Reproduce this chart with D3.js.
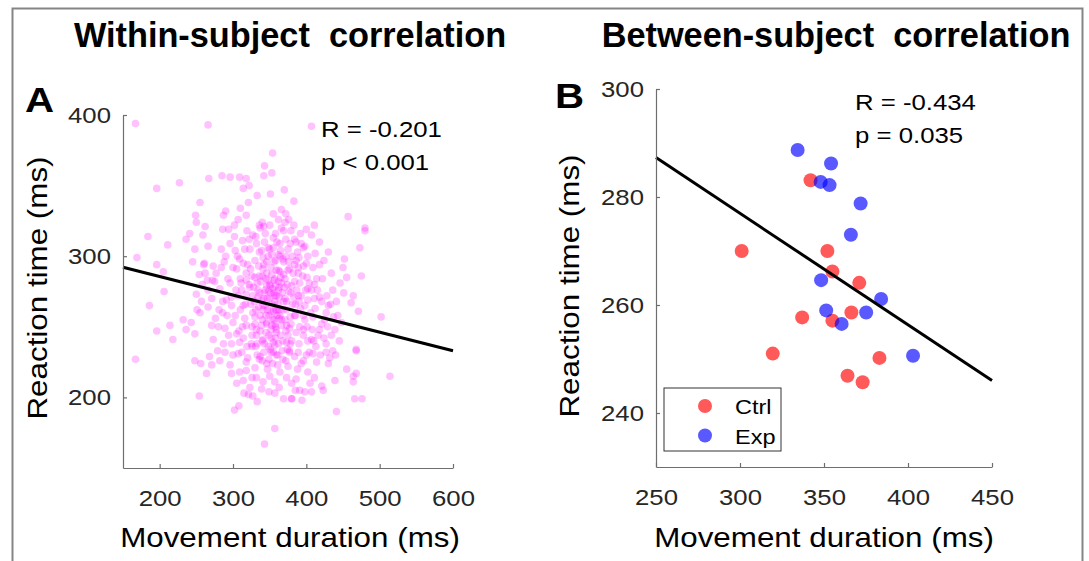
<!DOCTYPE html>
<html>
<head>
<meta charset="utf-8">
<script src="https://cdn.jsdelivr.net/npm/d3@7"></script>
<style>
  html, body { margin: 0; padding: 0; background: #fff; }
  svg { display: block; }
</style>
</head>
<body>
<div id="chart"></div>
<script>
// ---- data ----
// panel A: single trials (movement duration ms, reaction time ms)
const withinPoints = [
  [167,394],[266,393],[354,373],[343,364],[353,359],[342,357],[285,357],[296,356],[309,356],[318,355],
  [322,350],[314,348],[267,355],[227,352],[196,348],[370,347],[351,344],[333,343],[255,338],[321,338],
  [310,334],[290,332],[287,329],[318,329],[249,329],[307,326],[302,322],[340,324],[355,330],[366,333],
  [372,330],[371,324],[250,324],[262,321],[286,319],[294,319],[336,322],[342,321],
  [407,392],[383,339],[457,328],[480,320],[400,319],[411,322],
  [184,314],[211,308],[169,299],[196,294],[205,289],[206,275],[186,265],[196,247],[214,251],[218,241],
  [232,255],[236,248],[243,253],[245,296],[248,305],[236,312],[241,316],[259,315],[266,307],[261,295],
  [273,293],[277,288],[275,282],[250,273],[257,268],[255,260],[266,264],[271,251],[248,245],[282,277],
  [291,269],[286,260],[298,265],[289,249],[300,253],[307,272],[311,281],[305,291],[314,295],[284,305],
  [296,309],[302,314],[323,305],[332,309],[327,315],[318,288],[330,285],[341,291],[323,278],[336,274],
  [350,280],[314,265],[327,260],[341,265],[355,261],[318,251],[332,248],[346,253],[359,248],[373,251],
  [309,239],[325,238],[341,241],[357,237],[373,239],[350,305],[364,309],[368,298],[377,291],[357,272],
  [373,268],[364,258],
  [384,312],[393,309],[398,307],[407,315],[480,318],[473,306],[452,298],[450,292],[455,285],[434,288],
  [418,294],[475,286],[464,272],[461,267],[471,261],[502,257],[414,284],[411,280],[402,277],[389,288],
  [400,295],[386,297],[421,268],[430,265],[427,260],[443,258],[448,253],[439,248],[409,257],[421,252],
  [416,244],[434,244],[398,265],[384,258],[396,248],[407,241],[427,238],[468,234],[380,279],[389,272],
  [402,269],
  [167,227],[254,201],[302,191],[308,194],[357,178],[343,167],[248,226],[256,224],[264,217],[271,223],
  [282,226],[289,232],[296,223],[307,231],[298,217],[309,218],[305,210],[314,212],[323,207],[321,202],
  [327,201],[315,203],[318,225],[330,221],[336,227],[346,224],[352,232],[359,230],[332,214],[341,211],
  [350,215],[357,211],[364,218],[373,214],[349,204],[380,199],[368,227],[377,232],[375,222],
  [377,233],[389,232],[400,230],[409,231],[393,224],[414,225],[430,224],[432,228],[427,232],[436,233],
  [468,233],[455,220],[468,217],[464,215],[464,211],[439,212],[514,215],[411,214],[405,210],[421,208],
  [423,205],[407,204],[398,204],[391,205],[380,210],[380,199],[466,199],[476,199],[441,190],[386,213],
  [338,282],[344,276],[351,279],[357,284],[362,276],[347,270],[353,266],[359,272],[366,281],[341,262],
  [349,258],[356,255],[363,262],[369,268],[334,271],[328,278],[346,288],[352,292],[358,297],[364,289],
  [371,284],[376,275],[381,266],[339,251],[345,246],[352,242],[358,250],[365,244],[371,255],[377,249],
  [330,257],[324,266],[318,273],[335,293],[341,299],[326,286],[320,294],[384,282],[389,292],[395,286],
  [392,263],[398,255],[386,246],[380,240],[374,234],[362,238],[355,232],[348,236],[340,240],[332,244],
  [326,250],[316,256],[310,262],[304,276],[310,284],[300,292],[296,281],[292,258],[286,268],[280,250],
  [348,300],[355,306],[362,301],[369,296],[343,310],[336,303],[330,297],[375,305],[381,300],[388,303],
  [351,261],[357,268],[344,265],[360,258],[354,277],[348,283],[362,290],[367,274],[373,262],[337,258],
  [346,252],[359,246],[366,251],[352,248],[358,262],[343,274],[335,264],[370,278],[378,257],[383,271],
  [305,245],[298,238],[312,232],[320,228],[326,236],[333,230],[340,226],[347,220],[354,224],[361,230],
  [368,240],[375,244],[390,238],[396,244],[401,250],[406,260],[411,270],[404,281],[399,276],[393,272],
  [316,305],[322,312],[309,298],[303,304],[290,300],[284,292],[272,283],[266,276],[262,288],[258,280],
  [344,316],[350,322],[358,316],[366,320],[372,312],[379,318],[386,310],[392,316],[402,300],[409,292],
  [415,276],[422,284],[428,272],[433,266],[425,255],[418,248],[410,240],[404,232],[396,226],[388,220],
  [350,270],[356,274],[346,279],[361,266],[340,286],[353,287],[365,285],[345,258],[357,252],[363,256],
  [349,244],[337,247],[331,262],[327,272],[371,270],[375,290],[368,262],[358,242],[351,234],[342,232],
  [333,238],[364,300],[356,296],[342,294],[336,286],[322,280],[317,266],[313,250],[379,252],[385,258],
  [390,268],[387,276],[382,288],[376,296],[360,310],[348,306],[334,276],[330,252],[354,256],[362,282],
  [312,276],[318,283],[324,291],[329,268],[333,281],[339,269],[345,284],[352,274],[358,279],[363,271],
  [369,287],[374,280],[379,274],[385,266],[391,281],[396,293],[401,285],[407,276],[412,263],[418,271],
  [326,244],[331,236],[337,229],[343,238],[349,227],[355,239],[361,223],[367,233],[372,226],[378,238],
  [384,229],[391,250],[396,258],[402,240],[408,248],[413,236],[419,230],[424,242],[429,250],[437,257],
  [298,271],[293,284],[288,296],[281,262],[276,256],[271,270],[265,283],[260,294],[254,287],[251,262],
  [303,258],[308,247],[314,242],[319,236],[300,230],[294,244],[287,238],[279,233],[273,241],[268,229],
  [340,255],[347,262],[353,251],[360,262],[366,255],[372,247],[342,270],[349,275],[356,283],[363,278],
  [339,304],[346,296],[353,301],[359,290],[365,304],[372,300],[378,309],[384,294],[390,299],[396,306],
  [331,314],[337,320],[355,313],[362,326],[369,318],[376,326],[383,322],[319,318],[313,311],[306,300],
  [412,302],[418,310],[424,297],[430,303],[436,276],[441,268],[446,281],[451,274],[445,240],[440,230],
  [357,203],[363,207],[369,199],[333,197],[339,206],[326,214],[318,219],[385,205],[394,198],[402,218]
];
const withinFit = [[150, 292.2], [600, 233]];

// panel B: subject means
const ctrlPoints = [
  [301,270],[342,283.1],[319.5,251],[337,257.7],[352,270],[355,266.2],
  [371,264.1],[355,257.1],[366.3,258.6],[383,250.2],[364,246.9],[373,245.7]
];
const expPoints = [
  [334.3,288.7],[354.2,286.2],[348,282.8],[353.3,282.2],[371.8,278.8],[366,273],
  [348.3,264.6],[384,261.1],[351.3,259],[375.1,258.6],[360.5,256.5],[403,250.6]
];
const betweenFit = [[250, 287.3], [450, 246]];

const xTicksA = [200, 300, 400, 500, 600];
const yTicksA = [200, 300, 400];
const xTicksB = [250, 300, 350, 400, 450];
const yTicksB = [240, 260, 280, 300];
const legendLabels = ['Ctrl', 'Exp'];

// ---- drawing ----
const W = 1089, H = 561;
const FONT = '"Liberation Sans", Arial, Helvetica, sans-serif';
const SX = 1.12;            // reference glyphs are a little wide
const AXIS = '#6e6e6e';
const TXT = '#262626';

const svg = d3.select('#chart').append('svg')
    .attr('width', W)
    .attr('height', H);

svg.append('rect').attr('width', W).attr('height', H).attr('fill', '#fff');

// outer frame (open at the bottom)
svg.append('path')
    .attr('d', `M12.5,${H} V8.5 H1082.5 V${H}`)
    .attr('fill', 'none')
    .attr('stroke', '#858585')
    .attr('stroke-width', 2);

function addText(str, x, y, o = {}) {
    let tr = `translate(${x},${y})`;
    if (o.rotate) tr += ` rotate(${o.rotate})`;
    tr += ` scale(${o.sx || 1},1)`;
    return svg.append('text')
        .attr('transform', tr)
        .attr('text-anchor', o.anchor || 'start')
        .attr('font-family', FONT)
        .attr('font-size', o.size || 23)
        .attr('font-weight', o.bold ? 'bold' : 'normal')
        .attr('fill', o.color || TXT)
        .style('white-space', 'pre')
        .text(str);
}

function styleAxis(g) {
    g.attr('font-family', FONT).attr('font-size', 23);
    g.select('.domain').attr('stroke', AXIS).attr('stroke-width', 1.2);
    g.selectAll('.tick line').attr('stroke', AXIS).attr('stroke-width', 1.2);
    g.selectAll('.tick text').attr('fill', TXT).attr('transform', `scale(${SX},1)`);
}

function drawAxes(x, y, xTicks, yTicks) {
    const yb = y.range()[0];
    const xl = x.range()[0];
    svg.append('g')
        .attr('transform', `translate(0,${yb})`)
        .call(d3.axisBottom(x).tickValues(xTicks).tickSize(-4).tickSizeOuter(0).tickPadding(22))
        .call(styleAxis);
    svg.append('g')
        .attr('transform', `translate(${xl},0)`)
        .call(d3.axisLeft(y).tickValues(yTicks).tickSize(-4).tickSizeOuter(0).tickPadding(12 / SX))
        .call(styleAxis);
}

// ---- panel A ----
const xA = d3.scaleLinear().domain([150, 600]).range([123, 453]);
const yA = d3.scaleLinear().domain([150, 400]).range([468, 115]);

svg.append('g')
    .selectAll('circle')
    .data(withinPoints)
    .join('circle')
    .attr('cx', d => xA(d[0]))
    .attr('cy', d => yA(d[1]))
    .attr('r', 3.8)
    .attr('fill', '#ff00ff')
    .attr('fill-opacity', 0.24);

svg.append('path')
    .datum(withinFit)
    .attr('fill', 'none')
    .attr('stroke', '#000')
    .attr('stroke-width', 3)
    .attr('d', d3.line().x(d => xA(d[0])).y(d => yA(d[1])));

drawAxes(xA, yA, xTicksA, yTicksA);

addText('Within-subject  correlation', 290, 47, { anchor: 'middle', size: 35, bold: true, sx: 0.98, color: '#000' });
addText('A', 25, 112, { size: 35, bold: true, sx: 1.15, color: '#000' });
addText('R = -0.201', 321, 137, { sx: SX, color: '#000' });
addText('p < 0.001', 321, 170, { sx: SX, color: '#000' });
addText('Movement duration (ms)', 290, 547, { anchor: 'middle', size: 28, sx: SX, color: '#000' });
addText('Reaction time (ms)', 47, 288, { anchor: 'middle', size: 28, sx: SX, rotate: -90, color: '#000' });

// ---- panel B ----
const xB = d3.scaleLinear().domain([250, 450]).range([656, 992]);
const yB = d3.scaleLinear().domain([230, 300]).range([467, 89]);
const groupColor = { Ctrl: '#ff0000', Exp: '#0000ff' };

svg.append('g')
    .selectAll('circle')
    .data(ctrlPoints)
    .join('circle')
    .attr('cx', d => xB(d[0]))
    .attr('cy', d => yB(d[1]))
    .attr('r', 7)
    .attr('fill', groupColor.Ctrl)
    .attr('fill-opacity', 0.65);

svg.append('g')
    .selectAll('circle')
    .data(expPoints)
    .join('circle')
    .attr('cx', d => xB(d[0]))
    .attr('cy', d => yB(d[1]))
    .attr('r', 7)
    .attr('fill', groupColor.Exp)
    .attr('fill-opacity', 0.65);

svg.append('path')
    .datum(betweenFit)
    .attr('fill', 'none')
    .attr('stroke', '#000')
    .attr('stroke-width', 3)
    .attr('d', d3.line().x(d => xB(d[0])).y(d => yB(d[1])));

drawAxes(xB, yB, xTicksB, yTicksB);

// legend
const legend = svg.append('g').attr('transform', 'translate(664,388)');
legend.append('rect')
    .attr('width', 117)
    .attr('height', 63)
    .attr('fill', '#fff')
    .attr('stroke', '#333')
    .attr('stroke-width', 1);
legendLabels.forEach((lab, i) => {
    legend.append('circle')
        .attr('cx', 41)
        .attr('cy', 18 + i * 29.5)
        .attr('r', 7)
        .attr('fill', groupColor[lab])
        .attr('fill-opacity', 0.65);
});
legendLabels.forEach((lab, i) => {
    addText(lab, 735, 414 + i * 29.5, { size: 21, sx: SX, color: '#000' });
});

addText('Between-subject  correlation', 836, 47, { anchor: 'middle', size: 35, bold: true, sx: 0.98, color: '#000' });
addText('B', 555, 108, { size: 35, bold: true, sx: 1.15, color: '#000' });
addText('R = -0.434', 855, 110, { sx: SX, color: '#000' });
addText('p = 0.035', 855, 143, { sx: SX, color: '#000' });
addText('Movement duration (ms)', 824, 547, { anchor: 'middle', size: 28, sx: SX, color: '#000' });
addText('Reaction time (ms)', 579, 286, { anchor: 'middle', size: 28, sx: SX, rotate: -90, color: '#000' });
</script>
</body>
</html>
